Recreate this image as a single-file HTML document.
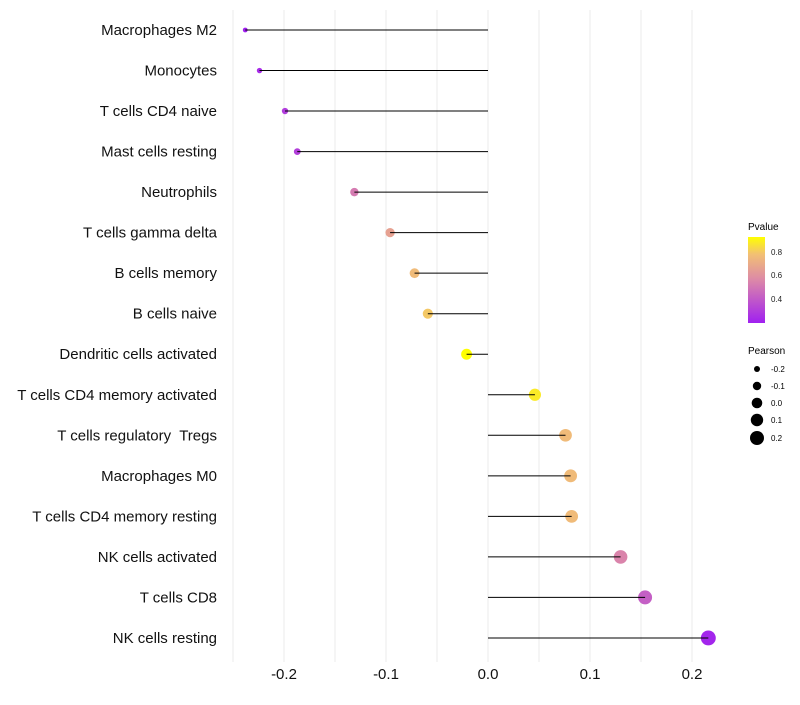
<!DOCTYPE html>
<html><head><meta charset="utf-8"><style>
body{margin:0;background:#fff;font-family:"Liberation Sans",sans-serif}
</style></head><body>
<svg id="chart" width="800" height="700" xmlns="http://www.w3.org/2000/svg" font-family="Liberation Sans, sans-serif">
<defs><linearGradient id="pg" x1="0" y1="1" x2="0" y2="0">
<stop offset="0" stop-color="#a020f0"/><stop offset="0.5" stop-color="#dc88a8"/><stop offset="0.8" stop-color="#f2c074"/><stop offset="1" stop-color="#ffff00"/></linearGradient></defs>
<g id="grid"></g>
<g id="marks"></g>
<g id="axes"></g>
<g>
<text x="748" y="230" font-size="10">Pvalue</text>
<rect x="748" y="237" width="17" height="86" fill="url(#pg)"/>
<g font-size="8" fill="#222">
<text x="771" y="255">0.8</text>
<text x="771" y="278">0.6</text>
<text x="771" y="302">0.4</text></g>
</g>
<g>
<text x="748" y="354" font-size="10">Pearson</text>
<g font-size="8" fill="#000">
<circle cx="757" cy="369" r="3"/><text x="771" y="372">-0.2</text>
<circle cx="757" cy="386" r="4.2"/><text x="771" y="389">-0.1</text>
<circle cx="757" cy="403" r="5.3"/><text x="771" y="406">0.0</text>
<circle cx="757" cy="420" r="6.2"/><text x="771" y="423">0.1</text>
<circle cx="757" cy="438" r="7"/><text x="771" y="441">0.2</text>
</g></g>
</svg>
<script>
const categories=["Macrophages M2","Monocytes","T cells CD4 naive","Mast cells resting","Neutrophils","T cells gamma delta","B cells memory","B cells naive","Dendritic cells activated","T cells CD4 memory activated","T cells regulatory\u00a0 Tregs ","Macrophages M0","T cells CD4 memory resting","NK cells activated","T cells CD8","NK cells resting"];
const pearson=[-0.238,-0.224,-0.199,-0.187,-0.131,-0.096,-0.072,-0.059,-0.021,0.046,0.076,0.081,0.082,0.130,0.154,0.216];
const pvalue=[0.2,0.24,0.3,0.31,0.52,0.66,0.76,0.8,0.96,0.88,0.76,0.76,0.76,0.55,0.42,0.22];
const xTicks=[-0.2,-0.1,0.0,0.1,0.2];
const xTickLabels=["-0.2","-0.1","0.0","0.1","0.2"];
const NS="http://www.w3.org/2000/svg";
const x=v=>488+v*1020;
const y=i=>30+i*40.53;
const r=v=>Math.sqrt(Math.max(3,32+110*v));
const stops=[[0.2,[160,32,240]],[0.565,[220,136,168]],[0.78,[242,192,116]],[0.93,[255,255,0]]];
function col(p){p=Math.max(0.2,Math.min(0.93,p));for(let k=0;k<stops.length-1;k++){const [a,ca]=stops[k],[b,cb]=stops[k+1];if(p<=b){const t=(p-a)/(b-a);return 'rgb('+ca.map((c,j)=>Math.round(c+(cb[j]-c)*t)).join(',')+')';}}return 'rgb(255,255,0)';}
function mk(t,attrs,parent){const e=document.createElementNS(NS,t);for(const k in attrs)e.setAttribute(k,attrs[k]);parent.appendChild(e);return e;}
const grid=document.getElementById('grid'),marks=document.getElementById('marks'),axes=document.getElementById('axes');
for(let v=-0.25;v<=0.226;v+=0.05){const g=mk('line',{x1:x(v),x2:x(v),y1:10,y2:662,stroke:'#ebebeb','stroke-width':1},grid);

}
categories.forEach((c,i)=>{
const cc=mk('circle',{cx:x(pearson[i]),cy:y(i),r:r(pearson[i]),fill:col(pvalue[i])},marks);


const l=mk('line',{x1:x(0),x2:x(pearson[i]),y1:y(i),y2:y(i),stroke:'#000','stroke-width':1},marks);


const t=mk('text',{x:217,y:y(i)+5,'text-anchor':'end','font-size':15,fill:'#111'},axes);
t.textContent=c;


});
xTicks.forEach((v,i)=>{const t=mk('text',{x:x(v),y:679,'text-anchor':'middle','font-size':15,fill:'#111'},axes);
t.textContent=xTickLabels[i];

});
</script>
</body></html>
